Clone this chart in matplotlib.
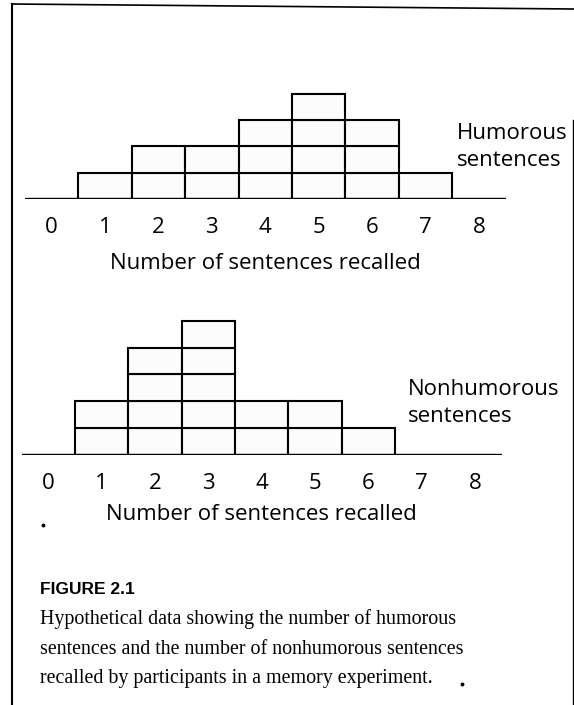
"""Figure 2.1 - stacked-block histograms of sentences recalled (humorous vs nonhumorous)"""

import matplotlib
matplotlib.use("Agg")
import matplotlib.pyplot as plt
from matplotlib.lines import Line2D

# ── data ──
recalled = [0, 1, 2, 3, 4, 5, 6, 7, 8]
humorous_counts = [0, 1, 2, 2, 3, 4, 3, 1, 0]
nonhumorous_counts = [0, 2, 4, 5, 2, 2, 1, 0, 0]

xlabel = "Number of sentences recalled"
caption_title = "FIGURE 2.1"
caption_lines = [
    "Hypothetical data showing the number of humorous",
    "sentences and the number of nonhumorous sentences",
    "recalled by participants in a memory experiment.",
]

W, H = 574, 705
SANS = ["Open Sans", "DejaVu Sans"]
SERIF = ["Liberation Serif", "DejaVu Serif"]
FS = 16


def fx(x):
    return x / W


def fy(y):
    return 1 - y / H


def panel_axes(left, right, baseline, unit_h, n_units):
    top = baseline - unit_h * n_units
    ax = fig.add_axes([fx(left), fy(baseline), (right - left) / W, (baseline - top) / H])
    ax.set_ylim(0, n_units)
    return ax


def draw_panel(ax, counts, label_drop):
    xs, bottoms = [], []
    for v, c in zip(recalled, counts):
        for k in range(c):
            xs.append(v)
            bottoms.append(k)
    ax.bar(xs, 1, width=1, bottom=bottoms, color="#fcfcfc",
           edgecolor="black", linewidth=1.5, zorder=2)
    ax.axhline(0, color="black", linewidth=1.7, zorder=3)
    ax.set_xlim(-0.5, 8.5)
    ax.patch.set_visible(False)
    for s in ax.spines.values():
        s.set_visible(False)
    ax.set_yticks([])
    ax.set_xticks(recalled)
    ax.set_xticklabels([str(v) for v in recalled], family=SANS, fontsize=FS)
    ax.tick_params(axis="x", length=0, pad=24.5)
    for lab in ax.get_xticklabels():
        lab.set_va("baseline")
    ax.annotate(xlabel, xy=(4, 0), xytext=(0, -label_drop), textcoords="offset pixels",
                ha="center", va="baseline", family=SANS, fontsize=FS)


fig = plt.figure(figsize=(W / 100, H / 100), dpi=100)

# ── top panel: humorous ──
ax1 = panel_axes(24.9, 505.5, 199, 26.3, 5)
draw_panel(ax1, humorous_counts, 70)
fig.text(fx(457), fy(139), "Humorous", family=SANS, fontsize=FS, va="baseline")
fig.text(fx(457), fy(166), "sentences", family=SANS, fontsize=FS, va="baseline")

# ── bottom panel: nonhumorous ──
ax2 = panel_axes(21.8, 501.5, 454.5, 26.7, 6)
draw_panel(ax2, nonhumorous_counts, 65)
fig.text(fx(408), fy(395), "Nonhumorous", family=SANS, fontsize=FS, va="baseline")
fig.text(fx(408), fy(422), "sentences", family=SANS, fontsize=FS, va="baseline")

# ── caption ──
fig.text(fx(40), fy(594), caption_title, family=["Liberation Sans", "DejaVu Sans"],
         weight="bold", fontsize=12.5, va="baseline")
for i, line in enumerate(caption_lines):
    fig.text(fx(40), fy(624 + 29.5 * i), line, family=SERIF, fontsize=14.4, va="baseline")

# ── page frame and specks ──
fig.add_artist(Line2D([fx(12), fx(12)], [fy(4), fy(705)], color="black", linewidth=1.5))
fig.add_artist(Line2D([fx(12), fx(574)], [fy(4), fy(9)], color="black", linewidth=1.2))
fig.add_artist(Line2D([fx(573), fx(573)], [fy(120), fy(705)], color="black", linewidth=1.0))
fig.add_artist(Line2D([fx(43), fx(462)], [fy(525), fy(684)], linestyle="none",
                      marker="o", markersize=1.8, color="black"))

plt.savefig("out.png", dpi=100)
print("Done: out.png")
